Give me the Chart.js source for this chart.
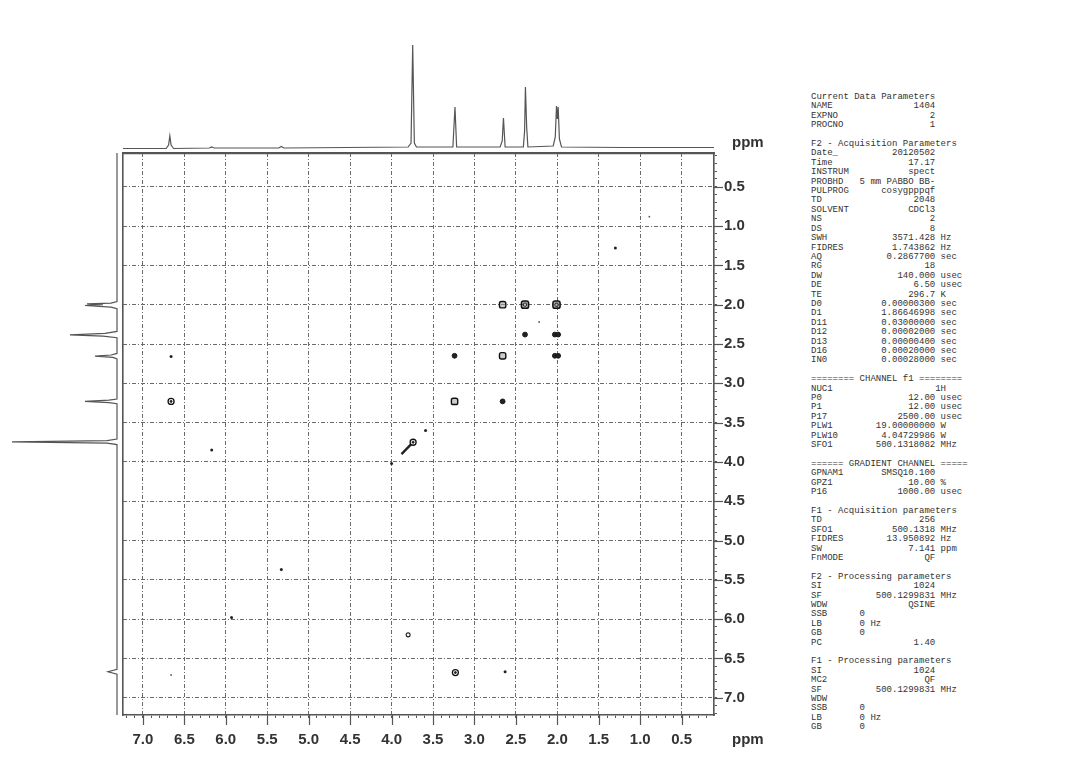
<!DOCTYPE html>
<html>
<head>
<meta charset="utf-8">
<script src="https://cdn.jsdelivr.net/npm/chart.js@4.4.1/dist/chart.umd.min.js"></script>
<style>
html,body{margin:0;padding:0;background:#fff;width:1079px;height:778px;overflow:hidden;}
canvas{position:absolute;}
#main{left:0;top:0;}
#top{left:123px;top:30px;}
#left{left:0;top:153px;}
.ppm{position:absolute;font:bold 15px "Liberation Sans",Arial,sans-serif;color:#333;line-height:18px;}
#params{position:absolute;left:811px;top:93px;margin:0;font:9px/9.4px "Liberation Mono","DejaVu Sans Mono",monospace;color:#333;white-space:pre;}
</style>
</head>
<body>
<canvas id="left" width="121" height="562"></canvas>
<canvas id="top" width="591" height="122"></canvas>
<canvas id="main" width="800" height="778"></canvas>
<div class="ppm" style="left:732px;top:133px;">ppm</div>
<div class="ppm" style="left:732px;top:730px;">ppm</div>
<pre id="params"></pre>
<script>
// ---- axis ranges (ppm) ----
const F2_MIN = 0.11, F2_MAX = 7.24;   // horizontal axis (reversed)
const F1_MIN = 0.07, F1_MAX = 7.22;   // vertical axis (reversed)
const TICK_STEP = 0.1;

// ---- top (F2) projection spectrum ----
const topPpm = [7.24, 6.72, 6.69, 6.675, 6.66, 6.63, 6.20, 6.17, 6.14, 5.36, 5.33, 5.30, 3.80, 3.765, 3.745, 3.725, 3.70, 3.26, 3.235, 3.215, 2.69, 2.665, 2.65, 2.63, 2.41, 2.395, 2.385, 2.37, 2.355, 2.05, 2.025, 2.01, 2.00, 1.99, 1.975, 1.95, 1.20, 0.11];
const topInt = [0.5, 0.5, 4, 13, 4, 0.5, 1, 2, 1, 1, 2.5, 1, 2, 6, 104, 6, 2, 2, 42, 2, 2, 8, 31, 2, 2, 18, 62, 22, 2, 3, 12, 43, 30, 42, 10, 2, 1.5, 1.5];

// ---- left (F1) projection spectrum ----
const leftPpm = [0.07, 1.96, 1.98, 1.99, 2.00, 2.01, 2.03, 2.05, 2.34, 2.365, 2.385, 2.40, 2.42, 2.62, 2.64, 2.655, 2.67, 2.69, 3.20, 3.215, 3.23, 3.245, 3.26, 3.71, 3.73, 3.745, 3.76, 3.78, 6.64, 6.67, 6.70, 7.22];
const leftInt = [0, 0, 6, 30, 14, 32, 6, 0, 0, 12, 47, 14, 0, 0, 6, 22, 4, 0, 0, 8, 32, 8, 0, 0, 10, 105, 10, 0, 0, 9, 0, 0];

// ---- 2D contour peaks (F2 ppm, F1 ppm, contour level) ----
const peakF2 = [2.01, 2.39, 2.66, 3.24, 3.74, 1.30, 5.33, 5.93, 6.66, 3.59, 4.00, 0.89, 2.66, 2.39, 2.03, 1.99, 2.22, 3.24, 2.03, 1.99, 2.66, 6.66, 6.66, 6.17, 3.80, 3.23, 2.63];
const peakF1 = [2.00, 2.38, 2.65, 3.23, 3.75, 1.28, 5.37, 5.98, 6.71, 3.60, 4.02, 0.88, 2.00, 2.00, 2.38, 2.38, 2.22, 2.65, 2.65, 2.65, 3.23, 2.66, 3.23, 3.85, 6.20, 6.68, 6.67];
const peakLevel = [5, 2.8, 4, 4, 3.5, 2, 2, 2, 1, 1.6, 1.6, 1, 4, 4.5, 2.8, 2.8, 1, 2.6, 2.6, 2.6, 2.8, 2, 3.5, 2, 3.2, 3.5, 2];

// diagonal ridge of the 3.74 ppm singlet
const ridgeF2 = [3.88, 3.76];
const ridgeF1 = [3.90, 3.77];

// ---- parameter listing ----
const paramRows = [
 ['Current Data Parameters'],
 ['NAME','1404'],['EXPNO','2'],['PROCNO','1'],[''],
 ['F2 - Acquisition Parameters'],
 ['Date_','20120502'],['Time','17.17'],['INSTRUM','spect'],['PROBHD','5 mm PABBO BB-'],
 ['PULPROG','cosygpppqf'],['TD','2048'],['SOLVENT','CDCl3'],['NS','2'],['DS','8'],
 ['SWH','3571.428','Hz'],['FIDRES','1.743862','Hz'],['AQ','0.2867700','sec'],['RG','18'],
 ['DW','140.000','usec'],['DE','6.50','usec'],['TE','296.7','K'],['D0','0.00000300','sec'],
 ['D1','1.86646998','sec'],['D11','0.03000000','sec'],['D12','0.00002000','sec'],
 ['D13','0.00000400','sec'],['D16','0.00020000','sec'],['IN0','0.00028000','sec'],[''],
 ['======== CHANNEL f1 ========'],
 ['NUC1','1H','','A'],['P0','12.00','usec'],['P1','12.00','usec'],['P17','2500.00','usec'],
 ['PLW1','19.00000000','W'],['PLW10','4.04729986','W'],['SFO1','500.1318082','MHz'],[''],
 ['====== GRADIENT CHANNEL ====='],
 ['GPNAM1','SMSQ10.100'],['GPZ1','10.00','%'],['P16','1000.00','usec'],[''],
 ['F1 - Acquisition parameters'],
 ['TD','256'],['SFO1','500.1318','MHz'],['FIDRES','13.950892','Hz'],['SW','7.141','ppm'],['FnMODE','QF'],[''],
 ['F2 - Processing parameters'],
 ['SI','1024'],['SF','500.1299831','MHz'],['WDW','QSINE'],['SSB','0','','L'],['LB','0','Hz','L'],['GB','0','','L'],['PC','1.40'],[''],
 ['F1 - Processing parameters'],
 ['SI','1024'],['MC2','QF'],['SF','500.1299831','MHz'],['WDW'],['SSB','0','','L'],['LB','0','Hz','L'],['GB','0','','L']
];

function fmtRow(r){
  if (r.length === 1) return r[0];
  const [n, v, u, mode] = r;
  if (mode === 'L') return n.padEnd(9) + v + (u ? ' ' + u : '');
  if (mode === 'A') return n.padEnd(23) + v;
  return n + ' '.repeat(Math.max(1, 23 - n.length - v.length)) + v + (u ? ' ' + u : '');
}
document.getElementById('params').textContent = paramRows.map(fmtRow).join('\n');

// ---------------- charts ----------------
const FONT = "'Liberation Sans', Arial, sans-serif";
Chart.defaults.font.family = FONT;
Chart.defaults.animation = false;

const isMajor = v => Math.abs(v * 2 - Math.round(v * 2)) < 1e-6;
const pts = (xs, ys) => xs.map((x, i) => ({x: x, y: ys[i]}));

function levelClass(l){
  if (l >= 4.5) return 'sq2';
  if (l >= 3.8) return 'sq';
  if (l >= 3.2) return 'ring';
  if (l >= 2.5) return 'dark';
  if (l >= 1.5) return 'dot';
  return 'tiny';
}
function peaksOf(cls, minLevel, maxLevel){
  const out = [];
  peakF2.forEach((x, i) => {
    const l = peakLevel[i];
    if (levelClass(l) === cls && (minLevel === undefined || l >= minLevel) && (maxLevel === undefined || l < maxLevel))
      out.push({x: x, y: peakF1[i]});
  });
  return out;
}
const base = {type: 'scatter', showLine: false, order: 1};
const datasets = [
  Object.assign({}, base, {data: peaksOf('sq2'), pointStyle: 'rectRounded', pointRadius: 1.8, borderWidth: 1, pointBorderColor: '#222', pointBackgroundColor: 'rgba(200,200,200,0.9)', order: 0}),
  Object.assign({}, base, {data: peaksOf('sq2'), pointStyle: 'rectRounded', pointRadius: 4.2, borderWidth: 1.5, pointBorderColor: '#111', pointBackgroundColor: 'rgba(90,90,90,0.5)', order: 1}),
  Object.assign({}, base, {data: peaksOf('sq'), pointStyle: 'rectRounded', pointRadius: 3.7, borderWidth: 1.4, pointBorderColor: '#111', pointBackgroundColor: 'rgba(160,160,160,0.55)', order: 1}),
  Object.assign({}, base, {data: peaksOf('ring', 3.4), pointStyle: 'circle', pointRadius: 1, borderWidth: 1, pointBorderColor: '#222', pointBackgroundColor: '#222', order: 0}),
  Object.assign({}, base, {data: peaksOf('ring', 3.4), pointStyle: 'circle', pointRadius: 3, borderWidth: 1.3, pointBorderColor: '#111', pointBackgroundColor: '#fff', order: 1}),
  Object.assign({}, base, {data: peaksOf('ring', 3.2, 3.4), pointStyle: 'circle', pointRadius: 2, borderWidth: 1.1, pointBorderColor: '#222', pointBackgroundColor: '#fff', order: 1}),
  Object.assign({}, base, {data: peaksOf('dark'), pointStyle: 'circle', pointRadius: 2.4, borderWidth: 1, pointBorderColor: '#151515', pointBackgroundColor: '#222', order: 1}),
  Object.assign({}, base, {data: peaksOf('dot'), pointStyle: 'circle', pointRadius: 1.5, borderWidth: 0, pointBackgroundColor: '#222', order: 1}),
  Object.assign({}, base, {data: peaksOf('tiny'), pointStyle: 'circle', pointRadius: 0.9, borderWidth: 0, pointBackgroundColor: '#555', order: 1}),
  {type: 'scatter', showLine: true, data: pts(ridgeF2, ridgeF1), borderColor: '#222', borderWidth: 2.4, pointRadius: 0, order: 10}
];

const majorTicks = {
  id: 'majorTicks',
  afterDraw(chart){
    const {ctx, chartArea: a, scales} = chart;
    ctx.save();
    ctx.strokeStyle = '#555';
    ctx.lineWidth = 1.2;
    scales.x.ticks.forEach(t => {
      if (!isMajor(t.value)) return;
      const px = Math.round(scales.x.getPixelForValue(t.value)) + 0.5;
      ctx.beginPath(); ctx.moveTo(px, a.bottom); ctx.lineTo(px, a.bottom + 10); ctx.stroke();
    });
    scales.y.ticks.forEach(t => {
      if (!isMajor(t.value)) return;
      const py = Math.round(scales.y.getPixelForValue(t.value)) + 0.5;
      ctx.beginPath(); ctx.moveTo(a.right, py); ctx.lineTo(a.right + 9, py); ctx.stroke();
    });
    ctx.restore();
  }
};

const tickFont = {size: 15, weight: 'bold', family: FONT};
const gridColor = c => (c.tick && isMajor(c.tick.value)) ? '#6a6a6a' : 'rgba(0,0,0,0)';

new Chart(document.getElementById('main'), {
  type: 'scatter',
  data: {datasets: datasets},
  plugins: [majorTicks],
  options: {
    responsive: false,
    animation: false,
    layout: {padding: {left: 123, top: 153, right: 36, bottom: 23}, autoPadding: false},
    plugins: {legend: {display: false}, tooltip: {enabled: false}},
    scales: {
      x: {
        type: 'linear', position: 'bottom', reverse: true, min: F2_MIN, max: F2_MAX,
        afterFit(s){ s.height = 40; },
        ticks: {stepSize: TICK_STEP, includeBounds: false, autoSkip: false, maxRotation: 0, minRotation: 0,
                padding: 13, color: '#333', font: tickFont, callback: v => isMajor(v) ? v.toFixed(1) : ''},
        grid: {color: gridColor, lineWidth: 1, tickLength: 3, tickColor: '#555', tickWidth: 1},
        border: {display: true, color: '#555', width: 1.6, dash: [4, 2, 1, 2]}
      },
      y: {
        type: 'linear', position: 'right', reverse: true, min: F1_MIN, max: F1_MAX,
        afterFit(s){ s.width = 50; },
        ticks: {stepSize: TICK_STEP, includeBounds: false, autoSkip: false,
                padding: 7, color: '#333', font: tickFont, callback: v => isMajor(v) ? v.toFixed(1) : ''},
        grid: {color: gridColor, lineWidth: 1, tickLength: 3, tickColor: '#555', tickWidth: 1},
        border: {display: true, color: '#555', width: 1.6, dash: [4, 2, 1, 2]}
      },
      xTop: {
        type: 'linear', position: 'top', reverse: true, min: F2_MIN, max: F2_MAX,
        afterFit(s){ s.height = 0; },
        ticks: {display: false}, grid: {drawOnChartArea: false, drawTicks: false},
        border: {display: true, color: '#555', width: 2.2}
      },
      yLeft: {
        type: 'linear', position: 'left', reverse: true, min: F1_MIN, max: F1_MAX,
        afterFit(s){ s.width = 0; },
        ticks: {display: false}, grid: {drawOnChartArea: false, drawTicks: false},
        border: {display: true, color: '#555', width: 1.6}
      }
    }
  }
});

// top projection
new Chart(document.getElementById('top'), {
  type: 'scatter',
  data: {datasets: [{data: pts(topPpm, topInt), showLine: true, borderColor: '#555', borderWidth: 1.2, pointRadius: 0}]},
  options: {
    responsive: false, animation: false,
    layout: {padding: 0},
    plugins: {legend: {display: false}, tooltip: {enabled: false}},
    scales: {
      x: {type: 'linear', display: false, reverse: true, min: F2_MIN, max: F2_MAX},
      y: {type: 'linear', display: false, min: -3, max: 119}
    }
  }
});

// left projection
new Chart(document.getElementById('left'), {
  type: 'scatter',
  data: {datasets: [{data: pts(leftInt, leftPpm), showLine: true, borderColor: '#555', borderWidth: 1.2, pointRadius: 0}]},
  options: {
    responsive: false, animation: false,
    layout: {padding: 0},
    plugins: {legend: {display: false}, tooltip: {enabled: false}},
    scales: {
      x: {type: 'linear', display: false, reverse: true, min: -4, max: 117},
      y: {type: 'linear', display: false, reverse: true, min: F1_MIN, max: F1_MAX}
    }
  }
});
</script>
</body>
</html>
